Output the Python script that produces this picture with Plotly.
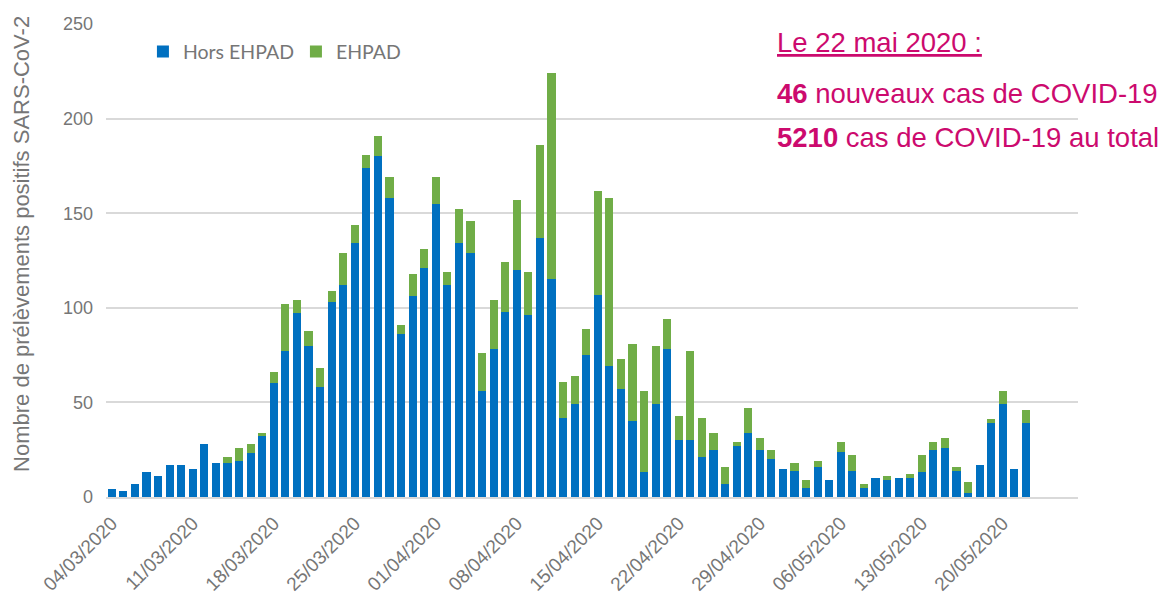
import pandas as pd
import plotly.graph_objects as go

# Daily values, 04/03/2020 -> 22/05/2020
dates = pd.date_range("2020-03-04", "2020-05-22", freq="D")
hors_ehpad = [4, 3, 7, 13, 11, 17, 17, 15, 28, 18,
              18, 19, 23, 32, 60, 77, 97, 80, 58, 103,
              112, 134, 174, 180, 158, 86, 106, 121, 155, 112,
              134, 129, 56, 78, 98, 120, 96, 137, 115, 42,
              49, 75, 107, 69, 57, 40, 13, 49, 78, 30,
              30, 21, 25, 7, 27, 34, 25, 20, 15, 14,
              5, 16, 9, 24, 14, 5, 10, 9, 10, 10,
              13, 25, 26, 14, 2, 17, 39, 49, 15, 39]
ehpad = [0, 0, 0, 0, 0, 0, 0, 0, 0, 0,
         3, 7, 5, 2, 6, 25, 7, 8, 10, 6,
         17, 10, 7, 11, 11, 5, 12, 10, 14, 7,
         18, 17, 20, 26, 26, 37, 23, 49, 109, 19,
         15, 14, 55, 89, 16, 41, 43, 31, 16, 13,
         47, 21, 9, 9, 2, 13, 6, 5, 0, 4,
         4, 3, 0, 5, 8, 2, 0, 2, 0, 2,
         9, 4, 5, 2, 6, 0, 2, 7, 0, 7]
y_ticks = [0, 50, 100, 150, 200, 250]

GRAY = "#767676"
PINK = "#cc0a6e"
FONT = "Arial, Liberation Sans, sans-serif"

fig = go.Figure()
fig.add_trace(go.Bar(x=dates, y=hors_ehpad, name="Hors EHPAD",
                     marker=dict(color="#0070c0", line=dict(width=0))))
fig.add_trace(go.Bar(x=dates, y=ehpad, name="EHPAD",
                     marker=dict(color="#70ad47", line=dict(width=0))))

fig.update_layout(
    width=1167, height=593,
    barmode="stack", bargap=0.3,
    plot_bgcolor="white", paper_bgcolor="white",
    margin=dict(l=98, r=97, t=16, b=104),
    font=dict(family=FONT, color=GRAY),
    legend=dict(orientation="h", x=0.038, xanchor="left", y=0.941, yanchor="middle",
                traceorder="normal",
                font=dict(family="Lato, Open Sans, sans-serif", size=19.5, color=GRAY),
                bgcolor="rgba(0,0,0,0)", entrywidth=108, entrywidthmode="pixels"),
    showlegend=True,
)
fig.update_xaxes(
    type="date", automargin=False,
    range=["2020-03-03 12:00", "2020-05-26 12:00"],
    tick0="2020-03-04", dtick=7 * 86400000,
    tickformat="%d/%m/%Y", tickangle=-45,
    tickfont=dict(size=19, color=GRAY), ticklabelstandoff=6,
    showgrid=False, showline=True, linecolor="#d9d9d9", linewidth=1.5,
    ticks="", zeroline=False,
)
fig.update_yaxes(
    range=[0, 250], tickvals=y_ticks, automargin=False,
    tickfont=dict(size=18, color=GRAY),
    showgrid=True, gridcolor="#d9d9d9", gridwidth=1.5,
    zeroline=False, showline=False, ticks="", ticklabelstandoff=12,
)

fig.add_annotation(text="Nombre de prélèvements positifs SARS-CoV-2",
                   xref="paper", yref="paper", x=-0.0864, y=0.535,
                   xanchor="center", yanchor="middle",
                   textangle=-90, showarrow=False,
                   font=dict(size=22, color=GRAY, family=FONT))
fig.add_annotation(text="<u>Le 22 mai 2020 :</u>", xref="paper", yref="paper",
                   x=0.688, y=0.960, xanchor="left", yanchor="middle", showarrow=False,
                   font=dict(size=27.5, color=PINK, family=FONT))
fig.add_annotation(text="<b>46</b> nouveaux cas de COVID-19", xref="paper", yref="paper",
                   x=0.688, y=0.854, xanchor="left", yanchor="middle", showarrow=False,
                   font=dict(size=27.5, color=PINK, family=FONT))
fig.add_annotation(text="<b>5210</b> cas de COVID-19 au total", xref="paper", yref="paper",
                   x=0.688, y=0.759, xanchor="left", yanchor="middle", showarrow=False,
                   font=dict(size=27.5, color=PINK, family=FONT))

fig.write_html("out.html")
